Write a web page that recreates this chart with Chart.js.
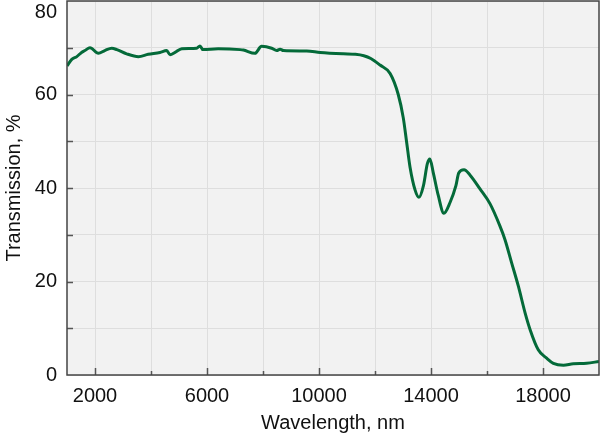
<!DOCTYPE html>
<html>
<head>
<meta charset="utf-8">
<script src="https://cdn.jsdelivr.net/npm/chart.js@4"></script>
<style>
html,body{margin:0;padding:0;background:#fff;}
#wrap{width:600px;height:439px;position:relative;}
</style>
</head>
<body>
<div id="wrap"><canvas id="c" width="600" height="439"></canvas></div>
<script>
// ---- data ----
const wavelengths = [1000,1170,1350,1520,1640,1820,2120,2350,2600,2780,3130,3550,3900,4320,4560,4680,4860,5100,5630,5750,5850,6400,7180,7300,7710,7950,8310,8490,8610,8730,9560,10040,10870,11300,11600,11850,12180,12540,12830,13010,13130,13250,13430,13570,13730,13870,13960,14080,14260,14460,14680,14890,14990,15180,15390,15750,16110,16460,16640,16880,17120,17360,17540,17830,18130,18370,18730,19080,19560,20000];
const transmission = [66.1,67.5,68.1,69.0,69.4,70.0,68.8,69.4,69.9,69.6,68.7,68.1,68.6,69.0,69.4,68.5,69.0,69.8,69.9,70.4,69.6,69.8,69.6,69.5,68.8,70.3,69.9,69.4,69.7,69.4,69.3,69.0,68.7,68.6,68.3,67.7,66.3,64.5,60.0,55.0,49.8,44.5,39.6,38.0,40.5,45.2,46.2,43.3,38.4,34.6,36.9,40.5,43.2,43.9,42.8,39.8,36.6,31.9,29.0,24.0,19.0,13.3,9.7,5.4,3.6,2.5,2.1,2.4,2.5,2.9];
const xTicks = [2000,4000,6000,8000,10000,12000,14000,16000,18000];
const xLabelTicks = [2000,6000,10000,14000,18000];
const yTicks = [10,20,30,40,50,60,70];
const yGrid = [0,10,20,30,40,50,60,70,80];
const yLabelTicks = [0,20,40,60];
const yTopLabel = 80;

const FONT = 'Liberation Sans, Arial, sans-serif';
const points = wavelengths.map((w,i)=>({x:w,y:transmission[i]}));

const frame = {
  id:'frame',
  beforeDraw(chart){
    const {ctx, chartArea:a} = chart;
    ctx.save();
    ctx.fillStyle = '#f2f2f2';
    ctx.fillRect(a.left, a.top, a.right-a.left, a.bottom-a.top);
    ctx.restore();
  },
  beforeDatasetsDraw(chart){
    const {ctx, chartArea:a, scales} = chart;
    ctx.save();
    ctx.strokeStyle = '#555';
    ctx.lineWidth = 1.5;
    ctx.beginPath();
    xTicks.forEach(v=>{
      const px = Math.round(scales.x.getPixelForValue(v))+0.5;
      const len = xLabelTicks.includes(v) ? 7 : 4;
      ctx.moveTo(px, a.bottom); ctx.lineTo(px, a.bottom-len);
    });
    yTicks.forEach(v=>{
      const py = Math.round(scales.y.getPixelForValue(v))+0.5;
      ctx.moveTo(a.left, py); ctx.lineTo(a.left+6, py);
    });
    ctx.stroke();
    ctx.restore();
  },
  afterDatasetsDraw(chart){
    const {ctx, chartArea:a, scales} = chart;
    ctx.save();
    ctx.strokeStyle = '#444';
    ctx.lineWidth = 1.5;
    ctx.strokeRect(a.left, a.top, a.right-a.left, a.bottom-a.top);
    // top y label, kept inside the canvas as in the reference
    ctx.fillStyle = '#111';
    ctx.font = '20px ' + FONT;
    ctx.textAlign = 'right';
    ctx.textBaseline = 'top';
    const py = Math.max(scales.y.getPixelForValue(yTopLabel), 2);
    ctx.fillText(String(yTopLabel), a.left - 10, py);
    ctx.restore();
  }
};

new Chart(document.getElementById('c'), {
  type:'line',
  data:{datasets:[{
    data:points,
    borderColor:'#046a39',
    borderWidth:3,
    pointRadius:0,
    fill:false,
    cubicInterpolationMode:'monotone'
  }]},
  options:{
    responsive:false,
    animation:false,
    layout:{padding:{top:1,right:1,left:0,bottom:0}},
    plugins:{legend:{display:false},tooltip:{enabled:false}},
    scales:{
      x:{
        type:'linear', min:1000, max:20000,
        afterBuildTicks(s){ s.ticks = xTicks.map(v=>({value:v})); },
        afterFit(s){ s.height = 64; s.paddingLeft=0; s.paddingRight=0; },
        grid:{color:'#dedede', lineWidth:1, drawTicks:false},
        border:{display:false},
        ticks:{
          padding:9, color:'#111', maxRotation:0, autoSkip:false,
          font:{family:FONT, size:20},
          callback:(v)=> xLabelTicks.includes(v) ? String(v) : ''
        },
        title:{display:true, text:'Wavelength, nm', color:'#111',
          font:{family:FONT, size:20},
          padding:{top:0,bottom:4}}
      },
      y:{
        type:'linear', min:0, max:80,
        afterBuildTicks(s){ s.ticks = yGrid.map(v=>({value:v})); },
        afterFit(s){ s.width = 67; s.paddingTop=0; s.paddingBottom=0; },
        grid:{color:'#dedede', lineWidth:1, drawTicks:false},
        border:{display:false},
        ticks:{
          padding:10, color:'#111', autoSkip:false,
          font:{family:FONT, size:20},
          callback:(v)=> yLabelTicks.includes(v) ? String(v) : ''
        },
        title:{display:true, text:'Transmission, %', color:'#111',
          font:{family:FONT, size:20},
          padding:{top:2,bottom:0}}
      }
    }
  },
  plugins:[frame]
});
</script>
</body>
</html>
